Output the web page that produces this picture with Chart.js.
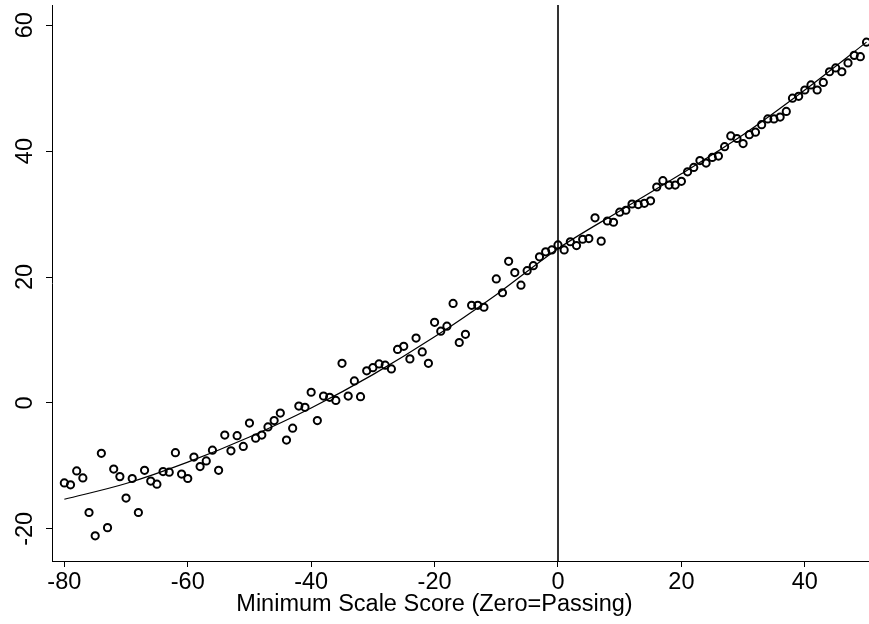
<!DOCTYPE html>
<html>
<head>
<meta charset="utf-8">
<script src="https://cdn.jsdelivr.net/npm/chart.js@4/dist/chart.umd.min.js"></script>
<style>
  html, body { margin: 0; padding: 0; background: #fff; }
  canvas { display: block; }
</style>
</head>
<body>
<canvas id="score_chart" width="869" height="624"></canvas>
<script>
// observed points (minimum scale score vs outcome)
const scoreX = [
  -80, -79, -78, -77, -76, -75, -74, -73, -72, -71,
  -70, -69, -68, -67, -66, -65, -64, -63, -62, -61,
  -60, -59, -58, -57, -56, -55, -54, -53, -52, -51,
  -50, -49, -48, -47, -46, -45, -44, -43, -42, -41,
  -40, -39, -38, -37, -36, -35, -34, -33, -32, -31,
  -30, -29, -28, -27, -26, -25, -24, -23, -22, -21,
  -20, -19, -18, -17, -16, -15, -14, -13, -12,
  -10, -9, -8, -7, -6, -5, -4, -3, -2, -1,
  0, 1, 2, 3, 4, 5, 6, 7, 8, 9,
  10, 11, 12, 13, 14, 15, 16, 17, 18, 19,
  20, 21, 22, 23, 24, 25, 26, 27, 28, 29,
  30, 31, 32, 33, 34, 35, 36, 37, 38, 39,
  40, 41, 42, 43, 44, 45, 46, 47, 48, 49, 50
];
const scoreY = [
  -12.7, -13.0, -10.8, -11.9, -17.4, -21.1, -8.0, -19.8, -10.5, -11.7,
  -15.1, -12.0, -17.4, -10.7, -12.4, -12.9, -10.9, -11.0, -7.9, -11.3,
  -12.0, -8.6, -10.1, -9.2, -7.5, -10.7, -5.1, -7.6, -5.2, -6.9,
  -3.2, -5.6, -5.1, -3.8, -2.8, -1.6, -5.9, -4.0, -0.5, -0.7,
  1.7, -2.8, 1.1, 0.9, 0.4, 6.3, 1.1, 3.5, 1.0, 5.1,
  5.6, 6.2, 6.0, 5.4, 8.5, 9.0, 7.0, 10.3, 8.1, 6.3,
  12.8, 11.4, 12.2, 15.8, 9.6, 10.9, 15.5, 15.5, 15.2,
  19.7, 17.5, 22.5, 20.7, 18.7, 21.0, 21.8, 23.2, 24.0, 24.3,
  25.1, 24.3, 25.6, 25.0, 26.0, 26.1, 29.4, 25.7, 28.9, 28.7,
  30.3, 30.6, 31.6, 31.5, 31.7, 32.1, 34.3, 35.3, 34.6, 34.6,
  35.2, 36.7, 37.4, 38.5, 38.1, 39.0, 39.2, 40.7, 42.4, 42.0,
  41.2, 42.6, 43.0, 44.2, 45.1, 45.1, 45.4, 46.3, 48.4, 48.7,
  49.7, 50.5, 49.7, 50.9, 52.6, 53.2, 52.6, 54.0, 55.2, 55.0, 57.3
];

// fitted curve
const fitX = [-80, -70, -60, -50, -40, -30, -20, -10, 0, 10, 20, 30, 40, 50];
const fitY = [-15.3, -12.8, -9.4, -5.4, -0.8, 4.5, 10.5, 17.2, 24.5, 30.5, 36.4, 42.6, 49.7, 57.3];

const cutoffX = 0;
const xTicks = [-80, -60, -40, -20, 0, 20, 40];
const yTicks = [-20, 0, 20, 40, 60];
const xRange = [-82, 50.4];
const yRange = [-25.1, 63.2];

const FONT = { family: "'Liberation Sans', Arial, sans-serif", size: 23.5 };

Chart.defaults.color = '#000';
Chart.defaults.font.family = FONT.family;

// no extra room for tick labels, the plot area is fixed
function noPad(scale) {
  scale.paddingTop = 0;
  scale.paddingBottom = 0;
  scale.paddingLeft = 0;
  scale.paddingRight = 0;
}

const config = {
  type: 'scatter',
  data: {
    datasets: [
      {
        data: scoreX.map((x, i) => ({ x: x, y: scoreY[i] })),
        pointStyle: 'circle',
        pointRadius: 3.6,
        pointBorderWidth: 2,
        pointBorderColor: '#000',
        pointBackgroundColor: 'rgba(0,0,0,0)',
        showLine: false,
        clip: false
      },
      {
        data: fitX.map((x, i) => ({ x: x, y: fitY[i] })),
        showLine: true,
        borderColor: '#000',
        borderWidth: 1.2,
        pointRadius: 0,
        cubicInterpolationMode: 'monotone',
        fill: false
      },
      {
        data: [{ x: cutoffX, y: yRange[0] }, { x: cutoffX, y: yRange[1] }],
        showLine: true,
        borderColor: '#333',
        borderWidth: 2,
        pointRadius: 0,
        fill: false
      }
    ]
  },
  options: {
    responsive: false,
    animation: false,
    layout: { autoPadding: false, padding: { top: 5, right: 0, left: 0, bottom: 0 } },
    plugins: {
      legend: { display: false },
      tooltip: { enabled: false },
      title: {
        display: true,
        position: 'bottom',
        text: 'Minimum Scale Score (Zero=Passing)',
        color: '#000',
        font: { size: FONT.size, weight: 'normal' },
        padding: { top: 0, bottom: 5 }
      }
    },
    scales: {
      x: {
        type: 'linear',
        min: xRange[0],
        max: xRange[1],
        afterBuildTicks: (scale) => { scale.ticks = xTicks.map(v => ({ value: v })); },
        afterFit: (scale) => { scale.height = 63 - (FONT.size * 1.2 + 5); noPad(scale); },
        ticks: { font: { size: FONT.size }, color: '#000', padding: 1, maxRotation: 0 },
        grid: { display: true, drawOnChartArea: false, drawTicks: true, tickLength: 6, color: '#000' },
        border: { display: true, color: '#000', width: 1 }
      },
      y: {
        type: 'linear',
        min: yRange[0],
        max: yRange[1],
        afterBuildTicks: (scale) => { scale.ticks = yTicks.map(v => ({ value: v })); },
        afterFit: (scale) => { scale.width = 52; noPad(scale); },
        ticks: {
          font: { size: FONT.size }, color: '#000',
          minRotation: 90, maxRotation: 90,
          crossAlign: 'center', padding: 4
        },
        grid: { display: true, drawOnChartArea: false, drawTicks: true, tickLength: 6, color: '#000' },
        border: { display: true, color: '#000', width: 1 }
      }
    }
  }
};

new Chart(document.getElementById('score_chart'), config);
</script>
</body>
</html>
